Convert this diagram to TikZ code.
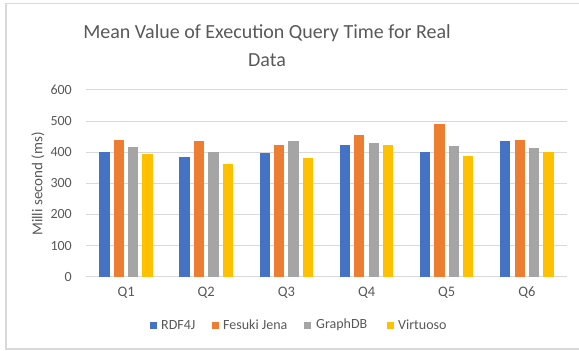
\documentclass[tikz,border=0pt]{standalone}
\usepackage{fontspec}
\setmainfont{Carlito}
\definecolor{cblue}{HTML}{4472C4}
\definecolor{corange}{HTML}{ED7D31}
\definecolor{cgray}{HTML}{A5A5A5}
\definecolor{cyellow}{HTML}{FFC000}
\definecolor{grid}{HTML}{D9D9D9}
\definecolor{txt}{HTML}{595959}
\definecolor{frame}{HTML}{D9D9D9}
\begin{document}
\begin{tikzpicture}[x=1pt,y=-1pt,
  gridline/.style={draw=grid, line width=1pt},
  ticklab/.style={anchor=east, text=txt, font=\fontsize{14}{14}\selectfont, inner sep=0pt},
  catlab/.style={anchor=center, text=txt, font=\fontsize{14.5}{14.5}\selectfont, inner sep=0pt},
  legtxt/.style={anchor=west, text=txt, font=\fontsize{14}{14}\selectfont, inner sep=0pt},
  legbox/.style={minimum size=7pt, inner sep=0pt},
  bar/.style={draw=none}]
\useasboundingbox (0,0) rectangle (579,351);
\clip (0,0) rectangle (579,351);
\fill[white] (0,0) rectangle (579,351);
\draw[frame, line width=1.2pt] (6,3.5) rectangle (590,349);
% title
\node[text=txt, font=\fontsize{20}{28}\selectfont, align=center, inner sep=0pt] (title) at (267,46) {Mean Value of Execution Query Time for Real\\Data};
% grid and tick labels
\def\yzero{276.7}
\def\ysc{0.3112}
\foreach \v in {0,100,...,600}{
  \pgfmathsetmacro{\yy}{\yzero-\v*\ysc}
  \draw[gridline] (86,\yy) -- (567,\yy);
  \node[ticklab] (t\v) at (72,\yy) {\v};
}
% y label
\node[text=txt, font=\fontsize{15}{15}\selectfont, rotate=90, inner sep=0pt] (ylab) at (38,184) {Milli second (ms)};
% bars
\def\bw{10.3}
\foreach \q/\a/\b/\c/\d [count=\i] in {1/400/440/416/393, 2/385/435/400/362, 3/398/423/435/382, 4/423/455/429/423, 5/401/491/419/388, 6/435/439/412/401}{
  \pgfmathsetmacro{\cx}{86+80.17*(\i-0.5)}
  \foreach \val/\col/\k in {\a/cblue/0,\b/corange/1,\c/cgray/2,\d/cyellow/3}{
    \pgfmathsetmacro{\xl}{\cx-26.8+\k*14.4}
    \pgfmathsetmacro{\yt}{\yzero-\val*\ysc}
    \fill[\col] (\xl,\yzero) rectangle (\xl+\bw,\yt);
  }
  \node[catlab] (q\q) at (\cx,293) {Q\q};
}
% legend
\node[legbox, fill=cblue] (l1) at (153,325) {};
\node[legtxt] (lt1) at (161,325) {RDF4J};
\node[legbox, fill=corange] (l2) at (215,325) {};
\node[legtxt] (lt2) at (223,325) {Fesuki Jena};
\node[legbox, fill=cgray] (l3) at (307,325) {};
\node[legtxt] (lt3) at (316,325) {GraphDB};
\node[legbox, fill=cyellow] (l4) at (390,325) {};
\node[legtxt] (lt4) at (398,325) {Virtuoso};
\end{tikzpicture}
\end{document}
